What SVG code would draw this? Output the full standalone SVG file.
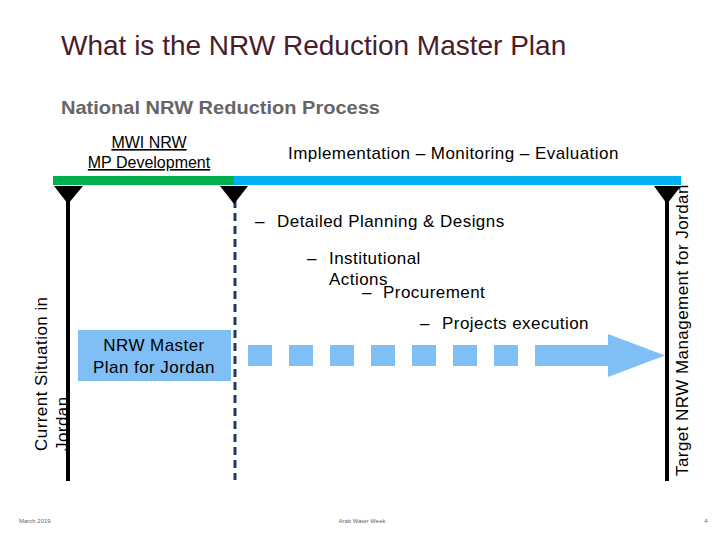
<svg xmlns="http://www.w3.org/2000/svg" width="720" height="540" viewBox="0 0 720 540">
<style>
text{font-family:"Liberation Sans",Arial,sans-serif;}
.t{font-size:17px;fill:#000;letter-spacing:0.45px;}
.ft{font-size:6px;fill:#666;}
.sq{fill:#7fbff5;}
</style>
<rect width="720" height="540" fill="#fff"/>
<text x="61" y="55" style="font-size:28px;fill:#4a1c2c">What is the NRW Reduction Master Plan</text>
<text x="61" y="114" textLength="319" lengthAdjust="spacingAndGlyphs" style="font-size:19px;font-weight:bold;fill:#666">National NRW Reduction Process</text>
<g id="phase1">
<text x="149" y="148" text-anchor="middle" style="font-size:16px;text-decoration:underline">MWI NRW</text>
<text x="149" y="168" text-anchor="middle" style="font-size:16px;text-decoration:underline">MP Development</text>
<rect x="53" y="176" width="181" height="9" fill="#00b050"/>
</g>
<g id="phase2">
<text x="288" y="159" class="t">Implementation – Monitoring – Evaluation</text>
<rect x="234" y="176" width="447" height="9" fill="#00b0f0"/>
</g>
<g id="start">
<line x1="68" y1="195" x2="68" y2="481" stroke="#000" stroke-width="4"/>
<polygon points="54,186 83,186 68,204" fill="#000"/>
<text transform="translate(47,451) rotate(-90)" class="t">Current Situation in</text>
<text transform="translate(68,451) rotate(-90)" class="t">Jordan</text>
</g>
<g id="milestone">
<line x1="235" y1="200" x2="235" y2="480" stroke="#1f3864" stroke-width="3" stroke-dasharray="8,5"/>
<polygon points="220,186 248,186 234,204" fill="#000"/>
</g>
<g id="target">
<line x1="667" y1="195" x2="667" y2="481" stroke="#000" stroke-width="4"/>
<polygon points="654,186 681,186 667,204" fill="#000"/>
<text transform="translate(688,476) rotate(-90)" class="t">Target NRW Management for Jordan</text>
</g>
<g id="masterplan">
<rect x="78" y="330" width="153" height="51" fill="#7fbff5"/>
<text x="154" y="351" text-anchor="middle" class="t">NRW Master</text>
<text x="154" y="373" text-anchor="middle" class="t">Plan for Jordan</text>
</g>
<g id="steps">
<text x="255" y="227" class="t">–</text>
<text x="277" y="227" class="t">Detailed Planning &amp; Designs</text>
<text x="307" y="264" class="t">–</text>
<text x="329" y="264" class="t">Institutional</text>
<text x="329" y="285" class="t">Actions</text>
<text x="362" y="298" class="t">–</text>
<text x="383" y="298" class="t">Procurement</text>
<text x="420" y="329" class="t">–</text>
<text x="442" y="329" class="t">Projects execution</text>
</g>
<g id="connectors">
<rect class="sq" x="248" y="345" width="24" height="21"/>
<rect class="sq" x="289" y="345" width="24" height="21"/>
<rect class="sq" x="330" y="345" width="24" height="21"/>
<rect class="sq" x="371" y="345" width="24" height="21"/>
<rect class="sq" x="412" y="345" width="24" height="21"/>
<rect class="sq" x="453" y="345" width="24" height="21"/>
<rect class="sq" x="494" y="345" width="24" height="21"/>
<polygon class="sq" points="535,345 608,345 608,334 665,355.5 608,377 608,366 535,366"/>
</g>
<g id="footer">
<text x="19" y="523" class="ft">March 2019</text>
<text x="362" y="523" text-anchor="middle" class="ft">Arab Water Week</text>
<text x="706" y="523" text-anchor="middle" class="ft">4</text>
</g>
</svg>
